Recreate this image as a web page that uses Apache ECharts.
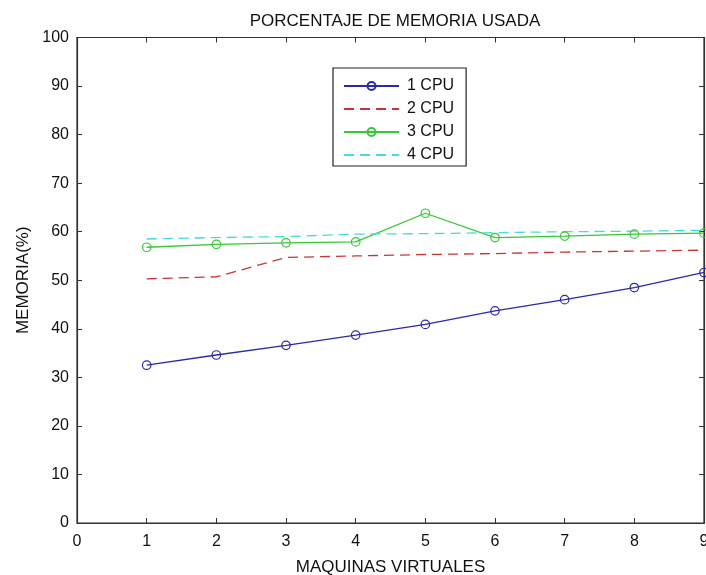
<!DOCTYPE html>
<html>
<head>
<meta charset="utf-8">
<title>Porcentaje de memoria usada</title>
<script src="https://cdn.jsdelivr.net/npm/echarts@6/dist/echarts.min.js"></script>
<style>
  html, body { margin: 0; padding: 0; background: #fff; }
  #chart { width: 706px; height: 575px; }
</style>
</head>
<body>
<div id="chart"></div>
<script>
// Number of virtual machines (x values)
const machines = [1, 2, 3, 4, 5, 6, 7, 8, 9];

// Memory usage (%) per CPU configuration
const cpu1 = [32.5, 34.6, 36.6, 38.7, 40.9, 43.7, 46.0, 48.5, 51.6];
const cpu2 = [50.3, 50.7, 54.7, 55.0, 55.3, 55.5, 55.8, 56.0, 56.2];
const cpu3 = [56.8, 57.4, 57.7, 57.9, 63.8, 58.8, 59.1, 59.5, 59.7];
const cpu4 = [58.5, 58.8, 59.0, 59.5, 59.6, 59.8, 60.0, 60.1, 60.3];

const seriesNames = ['1 CPU', '2 CPU', '3 CPU', '4 CPU'];
const titleText = 'PORCENTAJE DE MEMORIA USADA';
const xName = 'MAQUINAS VIRTUALES';
const yName = 'MEMORIA(%)';

const FONT = '"Liberation Sans", Arial, Helvetica, sans-serif';
const axisColor = '#333333';

function pairs(ys) {
  return machines.map((x, i) => [x, ys[i]]);
}

function lineSeries(name, ys, color, dashed, markers) {
  return {
    name: name,
    type: 'line',
    data: pairs(ys),
    xAxisIndex: 0,
    yAxisIndex: 0,
    symbol: markers ? 'circle' : 'none',
    showSymbol: markers,
    symbolSize: 8.5,
    lineStyle: { color: color, width: 1.3, type: dashed ? [10, 6] : 'solid' },
    itemStyle: {
      color: 'rgba(255,255,255,0)',
      borderColor: markers ? color : 'rgba(255,255,255,0)',
      borderWidth: 1.2
    },
    emphasis: { disabled: true },
    animation: false
  };
}

// Empty series so the mirrored top/right axes are laid out (box ticks)
function boxSeries() {
  return {
    type: 'line', data: [], xAxisIndex: 1, yAxisIndex: 1,
    silent: true, showSymbol: false, animation: false
  };
}

const tickStyle = { inside: true, length: 5, lineStyle: { color: axisColor } };
const lineStyleAxis = { show: true, onZero: false, lineStyle: { color: axisColor, width: 1.2 } };

const chart = echarts.init(document.getElementById('chart'), null, { renderer: 'canvas' });
chart.setOption({
  backgroundColor: '#ffffff',
  animation: false,
  title: {
    text: titleText,
    left: 390,
    textAlign: 'center',
    top: 8,
    textStyle: { fontFamily: FONT, fontSize: 17, fontWeight: 'normal', color: '#111' }
  },
  grid: {
    left: 77, right: 2, top: 37.5, bottom: 52,
    outerBoundsMode: 'none',
    containLabel: false,
    show: true, borderColor: axisColor, borderWidth: 1.2, backgroundColor: 'transparent'
  },
  legend: {
    orient: 'vertical',
    left: 333,
    top: 68,
    width: 131,
    padding: [10, 12, 3, 10],
    itemGap: 7,
    itemWidth: 55,
    itemHeight: 10,
    borderColor: '#222',
    borderWidth: 1.2,
    backgroundColor: '#fff',
    borderRadius: 0,
    data: seriesNames,
    textStyle: { fontFamily: FONT, fontSize: 16, color: '#111', padding: [0, 0, 0, 3] }
  },
  xAxis: [
    {
      type: 'value', min: 0, max: 9, interval: 1, position: 'bottom',
      name: xName, nameLocation: 'middle', nameGap: 36,
      nameTextStyle: { fontFamily: FONT, fontSize: 17, color: '#111' },
      axisLine: lineStyleAxis, axisTick: tickStyle,
      axisLabel: { fontFamily: FONT, fontSize: 16, color: '#111', margin: 11, showMaxLabel: true },
      splitLine: { show: false }
    },
    {
      type: 'value', min: 0, max: 9, interval: 1, position: 'top',
      axisLine: lineStyleAxis, axisTick: tickStyle,
      axisLabel: { show: false }, splitLine: { show: false }
    }
  ],
  yAxis: [
    {
      type: 'value', min: 0, max: 100, interval: 10, position: 'left',
      name: yName, nameLocation: 'middle', nameGap: 42, nameRotate: 90,
      nameTextStyle: { fontFamily: FONT, fontSize: 17, color: '#111' },
      axisLine: lineStyleAxis, axisTick: tickStyle,
      axisLabel: { fontFamily: FONT, fontSize: 16, color: '#111', margin: 8 },
      splitLine: { show: false }
    },
    {
      type: 'value', min: 0, max: 100, interval: 10, position: 'right',
      axisLine: lineStyleAxis, axisTick: tickStyle,
      axisLabel: { show: false }, splitLine: { show: false }
    }
  ],
  series: [
    lineSeries(seriesNames[0], cpu1, '#2a2aa8', false, true),
    lineSeries(seriesNames[1], cpu2, '#cc3434', true, false),
    lineSeries(seriesNames[2], cpu3, '#36c836', false, true),
    lineSeries(seriesNames[3], cpu4, '#44dcdc', true, false),
    boxSeries()
  ]
});
</script>
</body>
</html>
